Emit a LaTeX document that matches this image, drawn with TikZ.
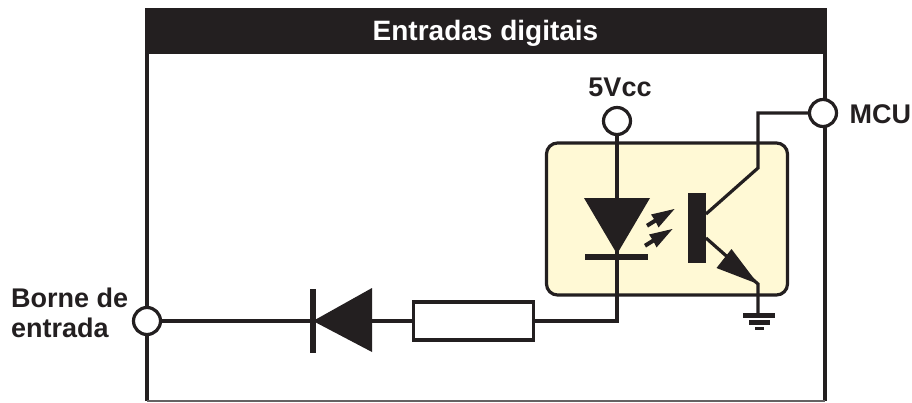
\documentclass[tikz,border=0pt]{standalone}
\usepackage{fontspec}
\setmainfont{Liberation Sans}
\definecolor{ink}{HTML}{231F20}
\definecolor{opto}{HTML}{FFF9D5}
\tikzset{
  wire/.style={draw=ink,line width=3.2pt,line join=miter},
  term/.style={circle,draw=ink,fill=white,line width=3.2pt,minimum size=27pt,inner sep=0pt},
  lbl/.style={text=ink,font=\bfseries\fontsize{27}{30}\selectfont,inner sep=0pt},
  solid ink/.style={fill=ink,draw=none},
}
\begin{document}
\begin{tikzpicture}[x=1pt,y=-1pt]
\useasboundingbox (0,0) rectangle (912,402);
% frame
\draw[draw=ink,line width=3.2pt] (147,8) -- (147,401);
\draw[draw=ink,line width=3.2pt] (825,8) -- (825,401);
\draw[draw=ink!70,line width=2pt] (147,401) -- (825,401);
\node[solid ink,minimum width=680pt,minimum height=46pt,inner sep=0pt,anchor=north west] (header) at (146,7.5) {};
\node[text=white,font=\bfseries\fontsize{28}{31}\selectfont,inner sep=0pt] (title) at (485.5,33) {Entradas digitais};
% opto box
\node[draw=ink,fill=opto,line width=3.2pt,rounded corners=11pt,minimum width=241pt,minimum height=152pt,inner sep=0pt] (opto) at (667,219) {};
% terminals
\node[term] (vcc) at (617,121) {};
\node[term] (mcu) at (823,113) {};
\node[term] (inp) at (147,321) {};
\node[lbl] (vcclbl) at (620,87) {5Vcc};
\node[lbl,anchor=west] (mculbl) at (849.5,114) {MCU};
\node[lbl,align=left,anchor=west] (inplbl) at (11,313) {Borne de\\entrada};
% named junctions
\coordinate (corner) at (617,321);
\coordinate (collTop) at (758,113);
\coordinate (collKnee) at (758,168);
\coordinate (collBase) at (706,214);
\coordinate (emitBase) at (706,238);
\coordinate (emitTip) at (758,284);
\coordinate (gnd) at (758,315);
% resistor and wires
\node[draw=ink,fill=white,line width=3.2pt,minimum width=120pt,minimum height=38pt,inner sep=0pt] (res) at (473.5,321) {};
\draw[wire] (vcc) -- (corner) -- (res.east);
\draw[wire] (res.west) -- (372,321);
\draw[wire] (inp) -- (312,321);
\draw[wire] (mcu) -- (collTop) -- (collKnee) -- (collBase);
\draw[wire] (emitBase) -- (emitTip) -- (gnd);
% input diode
\fill[ink] (372,288) -- (372,352) -- (313,321) -- cycle;
\fill[ink] (310,289) rectangle (316,353);
% LED
\fill[ink] (584,198) -- (650,198) -- (617,254) -- cycle;
\fill[ink] (585,254) rectangle (648,260);
\fill[ink] (674.5,209) -- (651,214.5) -- (654,219) -- (646,224) -- (648,227.5) -- (656,222.5) -- (658.5,227.5) -- cycle;
\fill[ink] (672.5,229) -- (649,234.5) -- (652,239) -- (644,244) -- (646,247.5) -- (654,242.5) -- (656.5,247.5) -- cycle;
% transistor
\fill[ink] (688,193) rectangle (706,263);
\fill[ink] (758,284) -- (731.5,249) -- (716.5,268) -- cycle;
% ground
\fill[ink] (743,313) rectangle (775,317.5);
\fill[ink] (749,320) rectangle (770,324.5);
\fill[ink] (755,326.5) rectangle (764,330);
\end{tikzpicture}
\end{document}
